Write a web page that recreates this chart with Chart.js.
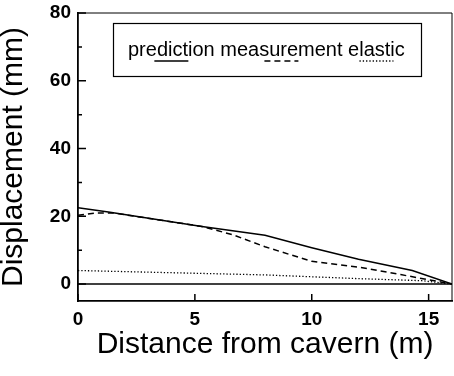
<!DOCTYPE html>
<html>
<head>
<meta charset="utf-8">
<script src="https://cdn.jsdelivr.net/npm/chart.js@4/dist/chart.umd.min.js"></script>
<style>
  body { margin: 0; background: #fff; }
  #wrap { width: 454px; height: 376px; }
</style>
</head>
<body>
<div id="wrap"><canvas id="chart" width="454" height="376"></canvas></div>
<script>
// values (x in m, y in mm)
const predictionX = [0, 1.3, 5.3, 8, 10, 12, 14.3, 16];
const predictionY = [22.5, 21.3, 17.0, 14.4, 10.7, 7.3, 4.0, 0];
const measurementX = [0, 0.8, 1.5, 5.3, 6.6, 8, 10, 12, 13.8, 16];
const measurementY = [20.3, 21.0, 21.0, 17.0, 14.6, 11.0, 6.7, 5.0, 2.8, 0];
const elasticX = [0, 8, 12, 14.7, 16];
const elasticY = [4.0, 2.7, 1.6, 1.0, 0];

const seriesNames = ['prediction', 'measurement', 'elastic'];
const xTicks = [0, 5, 10, 15];
const yTicks = [0, 20, 40, 60, 80];
const yMinorTicks = [10, 30, 50, 70];

const FONT = "'Liberation Sans', Arial, Helvetica, sans-serif";

const toPoints = (xs, ys) => xs.map((v, i) => ({ x: v, y: ys[i] }));

// box, zero line, inward tick marks and the boxed legend
const framePlugin = {
    id: 'frame',
    beforeDatasetsDraw(chart) {
        const { ctx, chartArea: a, scales: { x, y } } = chart;
        ctx.save();
        ctx.strokeStyle = '#000';
        ctx.lineWidth = 1;
        ctx.beginPath();
        ctx.moveTo(a.left, a.top);
        ctx.lineTo(a.right, a.top);
        ctx.lineTo(a.right, a.bottom);
        ctx.stroke();

        const y0 = y.getPixelForValue(0);
        ctx.lineWidth = 1.5;
        ctx.beginPath();
        ctx.moveTo(a.left, y0);
        ctx.lineTo(a.right, y0);
        ctx.stroke();

        ctx.lineWidth = 1.5;
        ctx.beginPath();
        yTicks.forEach(v => {
            const py = y.getPixelForValue(v);
            ctx.moveTo(a.left, py);
            ctx.lineTo(a.left + 8, py);
        });
        yMinorTicks.forEach(v => {
            const py = y.getPixelForValue(v);
            ctx.moveTo(a.left, py);
            ctx.lineTo(a.left + 4, py);
        });
        xTicks.forEach(v => {
            const px = x.getPixelForValue(v);
            ctx.moveTo(px, a.bottom);
            ctx.lineTo(px, a.bottom - 7);
        });
        ctx.stroke();
        ctx.restore();
    },
    afterDraw(chart) {
        const { ctx } = chart;
        ctx.save();
        ctx.strokeStyle = '#000';
        ctx.lineWidth = 1.2;
        ctx.strokeRect(113.5, 23.5, 308, 53);

        ctx.font = '20px ' + FONT;
        ctx.fillStyle = '#000';
        ctx.textBaseline = 'alphabetic';
        const space = ctx.measureText(' ').width;
        let tx = 128;
        chart.data.datasets.forEach(ds => {
            const w = ctx.measureText(ds.label).width;
            ctx.fillText(ds.label, tx, 56);
            const cx = tx + w / 2;
            ctx.setLineDash(ds.borderDash || []);
            ctx.lineWidth = 1.4;
            ctx.beginPath();
            ctx.moveTo(cx - 17, 61);
            ctx.lineTo(cx + 17, 61);
            ctx.stroke();
            tx += w + space;
        });
        ctx.restore();
    }
};

new Chart(document.getElementById('chart'), {
    type: 'scatter',
    data: {
        datasets: [
            {
                label: seriesNames[0],
                data: toPoints(predictionX, predictionY),
                showLine: true,
                borderColor: '#000',
                borderWidth: 1.5,
                pointRadius: 0,
                borderDash: []
            },
            {
                label: seriesNames[1],
                data: toPoints(measurementX, measurementY),
                showLine: true,
                borderColor: '#000',
                borderWidth: 1.5,
                pointRadius: 0,
                borderDash: [6, 4]
            },
            {
                label: seriesNames[2],
                data: toPoints(elasticX, elasticY),
                showLine: true,
                borderColor: '#000',
                borderWidth: 1.3,
                pointRadius: 0,
                borderDash: [1.3, 2]
            }
        ]
    },
    options: {
        responsive: false,
        animation: false,
        layout: { padding: { top: 13, right: 2, left: 0, bottom: 0 } },
        plugins: {
            legend: { display: false },
            tooltip: { enabled: false }
        },
        scales: {
            x: {
                type: 'linear',
                min: 0,
                max: 16,
                afterBuildTicks: s => { s.ticks = xTicks.map(v => ({ value: v })); },
                afterFit: s => { s.height = 75; s.paddingLeft = 0; s.paddingRight = 0; },
                grid: { display: false, drawTicks: false },
                border: { display: true, color: '#000', width: 1.8 },
                ticks: {
                    color: '#000',
                    padding: 7,
                    maxRotation: 0,
                    font: { family: FONT, size: 19, weight: 'bold' }
                },
                title: {
                    display: true,
                    text: 'Distance from cavern (m)',
                    color: '#000',
                    font: { family: FONT, size: 30, lineHeight: 1 },
                    padding: { top: 0, bottom: 16 }
                }
            },
            y: {
                type: 'linear',
                min: -5,
                max: 80,
                afterBuildTicks: s => { s.ticks = yTicks.map(v => ({ value: v })); },
                afterFit: s => { s.width = 78; s.paddingTop = 0; s.paddingBottom = 0; },
                grid: { display: false, drawTicks: false },
                border: { display: true, color: '#000', width: 1.8 },
                ticks: {
                    color: '#000',
                    padding: 7,
                    font: { family: FONT, size: 19, weight: 'bold' }
                },
                title: {
                    display: true,
                    text: 'Displacement (mm)',
                    color: '#000',
                    font: { family: FONT, size: 30, lineHeight: 1 },
                    padding: { top: -1, bottom: 0 }
                }
            }
        }
    },
    plugins: [framePlugin]
});
</script>
</body>
</html>
